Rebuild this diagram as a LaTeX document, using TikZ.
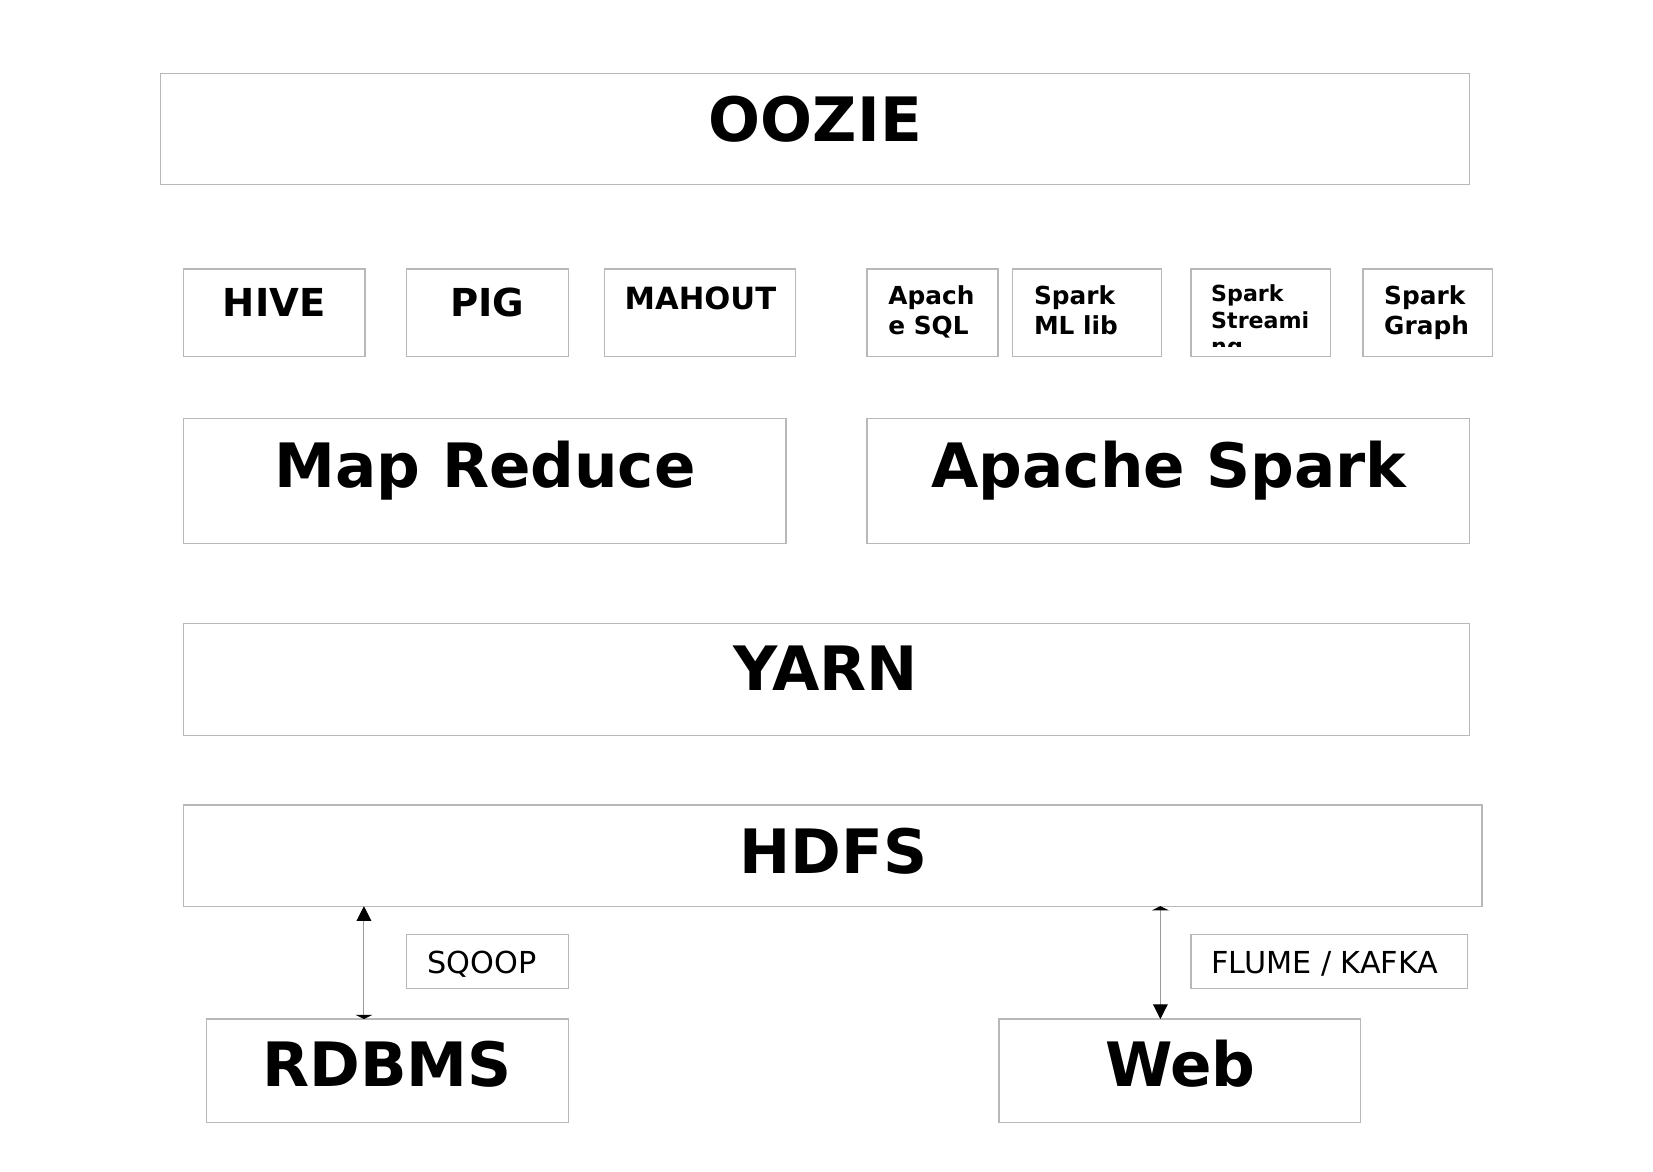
\documentclass[tikz,border=0pt]{standalone}
\usepackage{fontspec}
\setmainfont{DejaVu Sans}
\usetikzlibrary{arrows.meta}
\definecolor{boxline}{HTML}{B8B8B8}
\definecolor{arrline}{HTML}{9A9A9A}
\tikzset{
  box/.style={draw=boxline, line width=1.2pt, fill=white, anchor=north west, inner sep=0pt, outer sep=0pt},
  big/.style={anchor=base, inner sep=0pt, font=\fontsize{58}{58}\selectfont\bfseries},
  mid/.style={anchor=base, inner sep=0pt, font=\fontsize{36.5}{37}\selectfont\bfseries},
  midsm/.style={anchor=base, inner sep=0pt, font=\fontsize{29}{30}\selectfont\bfseries},
  sm/.style={anchor=base west, inner sep=0pt, align=left, font=\fontsize{23.5}{28}\selectfont\bfseries},
  smst/.style={anchor=base west, inner sep=0pt, align=left, font=\fontsize{21}{25}\selectfont\bfseries},
  reg/.style={anchor=base west, inner sep=0pt, font=\fontsize{28.7}{29}\selectfont},
  conn/.style={draw=arrline, line width=1pt},
  headtip/.tip={Triangle[length=14pt,width=14pt,color=black]},
  flattip/.tip={Triangle[length=4pt,width=16pt,color=black]}
}
\begin{document}
\begin{tikzpicture}[x=1pt,y=-1pt]
\useasboundingbox[fill=white] (0,0) rectangle (1567,1111);
% boxes
\node[box, minimum width=1241pt, minimum height=105pt] (oozie) at (152,70) {};
\node[box, minimum width=172pt, minimum height=83pt] (hive) at (174,255) {};
\node[box, minimum width=154pt, minimum height=83pt] (pig) at (385,255) {};
\node[box, minimum width=181pt, minimum height=83pt] (mahout) at (573,255) {};
\node[box, minimum width=124pt, minimum height=83pt] (sql) at (822,255) {};
\node[box, minimum width=141pt, minimum height=83pt] (mllib) at (960,255) {};
\node[box, minimum width=132pt, minimum height=83pt] (stream) at (1129,255) {};
\node[box, minimum width=123pt, minimum height=83pt] (graph) at (1292,255) {};
\node[box, minimum width=571pt, minimum height=118pt] (mapred) at (174,397) {};
\node[box, minimum width=571pt, minimum height=118pt] (spark) at (822,397) {};
\node[box, minimum width=1219pt, minimum height=106pt] (yarn) at (174,591) {};
\node[box, minimum width=1231pt, minimum height=96pt] (hdfs) at (174,763) {};
\node[box, minimum width=154pt, minimum height=51pt] (sqoop) at (385,886) {};
\node[box, minimum width=262pt, minimum height=51pt] (flume) at (1129,886) {};
\node[box, minimum width=343pt, minimum height=98pt] (rdbms) at (196,966) {};
\node[box, minimum width=343pt, minimum height=98pt] (web) at (947,966) {};
% labels
\node[big] (toozie) at (773,134) {OOZIE};
\node[mid] (thive) at (260,300) {HIVE};
\node[mid] (tpig) at (462,300) {PIG};
\node[midsm] (tmahout) at (664,293) {MAHOUT};
\node[sm] (tsql) at (842,317) {Apach\\e SQL};
\node[sm] (tmllib) at (980,317) {Spark\\ML lib};
\begin{scope}
\clip (1129,255) rectangle (1261,328);
\node[smst] (tstream) at (1148,336) {Spark\\Streami\\ng};
\end{scope}
\node[sm] (tgraph) at (1312,317) {Spark\\Graph};
\node[big] (tmapred) at (460,462) {Map Reduce};
\node[big] (tspark) at (1108,462) {Apache Spark};
\node[big] (tyarn) at (783,655) {YARN};
\node[big] (thdfs) at (790,828) {HDFS};
\node[reg] (tsqoop) at (405,923) {SQOOP};
\node[reg] (tflume) at (1148,923) {FLUME / KAFKA};
\node[big] (trdbms) at (367,1030) {RDBMS};
\node[big] (tweb) at (1119,1030) {Web};
% connectors
\draw[conn, {flattip}-{headtip}] ([xshift=149pt]rdbms.north west) -- ([xshift=171pt]hdfs.south west);
\draw[conn, {flattip}-{headtip}] ([xshift=926pt]hdfs.south west) -- ([xshift=153pt]web.north west);
\end{tikzpicture}
\end{document}
